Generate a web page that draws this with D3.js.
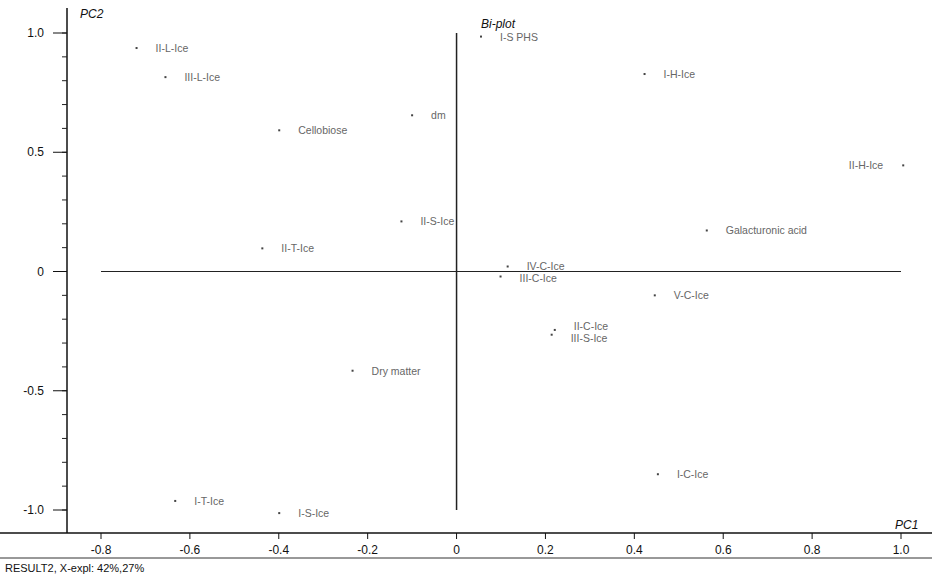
<!DOCTYPE html>
<html>
<head>
<meta charset="utf-8">
<script src="https://cdn.jsdelivr.net/npm/d3@7"></script>
<style>
  body { margin: 0; background: #fff; }
  svg text { font-family: "Liberation Sans", Arial, sans-serif; }
</style>
</head>
<body>
<div id="chart"></div>
<script>
// du lieu doc tu hinh
const names = ["II-L-Ice", "III-L-Ice", "Cellobiose", "I-S PHS", "dm", "II-S-Ice", "II-T-Ice",
    "I-H-Ice", "II-H-Ice", "Galacturonic acid", "IV-C-Ice", "III-C-Ice", "V-C-Ice",
    "II-C-Ice", "III-S-Ice", "Dry matter", "I-C-Ice", "I-T-Ice", "I-S-Ice"];
const pc1 = [-0.72, -0.655, -0.399, 0.055, -0.10, -0.124, -0.437,
    0.423, 1.005, 0.563, 0.115, 0.099, 0.446,
    0.221, 0.214, -0.234, 0.453, -0.633, -0.399];
const pc2 = [0.937, 0.815, 0.592, 0.985, 0.655, 0.21, 0.097,
    0.828, 0.445, 0.172, 0.021, -0.021, -0.10,
    -0.245, -0.265, -0.416, -0.85, -0.962, -1.013];
const xTicks = [-0.8, -0.6, -0.4, -0.2, 0, 0.2, 0.4, 0.6, 0.8, 1.0];
const xTickLabels = ["-0.8", "-0.6", "-0.4", "-0.2", "0", "0.2", "0.4", "0.6", "0.8", "1.0"];
const yTicks = [1.0, 0.5, 0, -0.5, -1.0];
const yTickLabels = ["1.0", "0.5", "0", "-0.5", "-1.0"];

const width = 932, height = 576;

const svg = d3.select("#chart").append("svg")
    .attr("width", width)
    .attr("height", height);

// thang do
const x = d3.scaleLinear().domain([-0.8, 1.0]).range([101, 901]);
const y = d3.scaleLinear().domain([-1.0, 1.0]).range([510, 33]);

const axisX = 67, axisY = 533;

// truc trai
svg.append("line")
    .attr("x1", axisX).attr("x2", axisX)
    .attr("y1", 8).attr("y2", axisY)
    .attr("stroke", "#111").attr("stroke-width", 1.5);

// vach nho 0.1
const minor = d3.range(-11, 11).map(i => i / 10).filter(v => y(v) > 8 && y(v) < axisY);
svg.selectAll(".ymin").data(minor).enter().append("line")
    .attr("x1", axisX - 5).attr("x2", axisX)
    .attr("y1", d => y(d)).attr("y2", d => y(d))
    .attr("stroke", "#222");

svg.selectAll(".ymaj").data(yTicks).enter().append("line")
    .attr("x1", axisX - 14).attr("x2", axisX)
    .attr("y1", d => y(d)).attr("y2", d => y(d))
    .attr("stroke", "#111");

svg.selectAll(".ylab").data(yTicks).enter().append("text")
    .attr("x", 44)
    .attr("y", d => y(d) + 4)
    .attr("text-anchor", "end")
    .attr("font-size", 12)
    .attr("fill", "#111")
    .text((d, i) => yTickLabels[i]);

// truc duoi
svg.append("line")
    .attr("x1", 0).attr("x2", width)
    .attr("y1", axisY).attr("y2", axisY)
    .attr("stroke", "#111").attr("stroke-width", 1.5);
svg.append("line")
    .attr("x1", 0).attr("x2", width)
    .attr("y1", 558).attr("y2", 558)
    .attr("stroke", "#333").attr("stroke-width", 1);

svg.selectAll(".xt").data(xTicks).enter().append("line")
    .attr("x1", d => x(d)).attr("x2", d => x(d))
    .attr("y1", axisY).attr("y2", axisY + 6)
    .attr("stroke", "#111");

svg.selectAll(".xlab").data(xTicks).enter().append("text")
    .attr("x", d => x(d))
    .attr("y", 554)
    .attr("text-anchor", "middle")
    .attr("font-size", 12)
    .attr("fill", "#111")
    .text((d, i) => xTickLabels[i]);

// duong chu thap o giua
svg.append("line")
    .attr("x1", x(-0.8)).attr("x2", x(1.0))
    .attr("y1", y(0)).attr("y2", y(0))
    .attr("stroke", "#222").attr("stroke-width", 1.2);
svg.append("line")
    .attr("x1", x(0)).attr("x2", x(0))
    .attr("y1", y(1.0)).attr("y2", y(-1.0))
    .attr("stroke", "#222").attr("stroke-width", 1.5);

// cac diem
const pts = names.map((n, i) => ({ name: n, pc1: pc1[i], pc2: pc2[i] }));

svg.selectAll(".dot").data(pts).enter().append("rect")
    .attr("x", d => x(d.pc1) - 1)
    .attr("y", d => y(d.pc2) - 1)
    .attr("width", 2).attr("height", 2)
    .attr("fill", "#444");

// vi tri nhan, day nhe cac nhan chong len nhau
const fs = 10.5;
pts.forEach(d => {
    d.lx = d.pc1 > 0.9 ? x(d.pc1) - 20 : x(d.pc1) + 19;
    d.ly = y(d.pc2) + 4;
    d.w = d.name.length * 5.6;
    d.x0 = d.pc1 > 0.9 ? d.lx - d.w : d.lx;
});
const sorted = pts.slice().sort((a, b) => a.ly - b.ly);
for (let i = 1; i < sorted.length; i++) {
    const a = sorted[i - 1], b = sorted[i];
    const overlapX = a.x0 < b.x0 + b.w && b.x0 < a.x0 + a.w;
    const gap = b.ly - a.ly;
    if (overlapX && gap < 12) {
        const push = (12 - gap) / 2;
        a.ly -= push;
        b.ly += push;
    }
}

svg.selectAll(".lab").data(pts).enter().append("text")
    .attr("x", d => d.lx)
    .attr("y", d => d.ly)
    .attr("text-anchor", d => d.pc1 > 0.9 ? "end" : "start")
    .attr("font-size", fs)
    .attr("fill", "#666")
    .text(d => d.name);

// tieu de
svg.append("text").attr("x", 481).attr("y", 28)
    .attr("font-size", 12).attr("font-style", "italic").attr("fill", "#111")
    .text("Bi-plot");
svg.append("text").attr("x", 80).attr("y", 18)
    .attr("font-size", 12).attr("font-style", "italic").attr("fill", "#111")
    .text("PC2");
svg.append("text").attr("x", 895).attr("y", 529)
    .attr("font-size", 12).attr("font-style", "italic").attr("fill", "#111")
    .text("PC1");
svg.append("text").attr("x", 5).attr("y", 572)
    .attr("font-size", 11).attr("fill", "#111")
    .text("RESULT2, X-expl: 42%,27%");
</script>
</body>
</html>
